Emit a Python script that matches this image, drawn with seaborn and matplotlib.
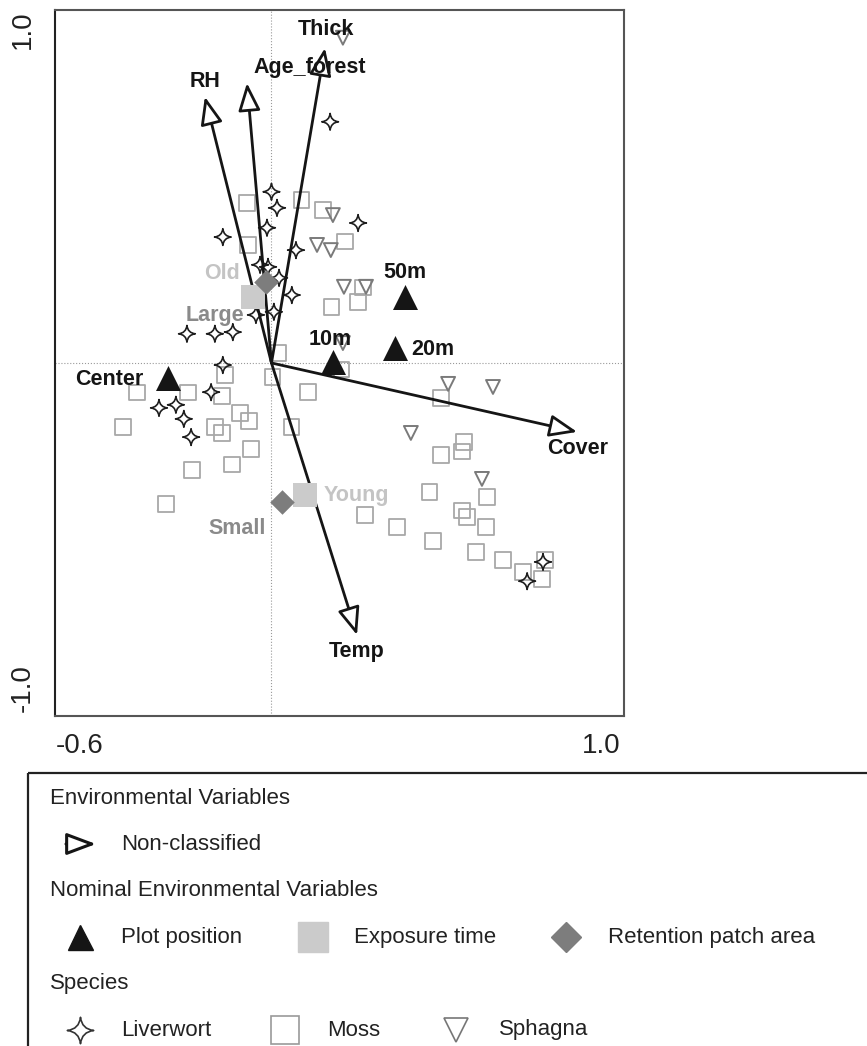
import numpy as np
import pandas as pd
import matplotlib
matplotlib.use("Agg")
import matplotlib.pyplot as plt
from matplotlib.path import Path
from matplotlib.markers import MarkerStyle
from matplotlib.patches import Rectangle
from matplotlib.transforms import ScaledTranslation
import seaborn as sns

# ---- data ----
# environmental variables (arrow tips)
env_names = ["Thick", "Age_forest", "RH", "Cover", "Temp"]
env_x = [0.155, -0.071, -0.193, 0.886, 0.248]
env_y = [0.918, 0.816, 0.776, -0.201, -0.793]

# nominal environmental variables
plot_pos = ["50m", "20m", "10m", "Center"]
plot_pos_x = [0.387, 0.358, 0.178, -0.300]
plot_pos_y = [0.192, 0.044, 0.003, -0.044]

exposure = ["Old", "Young"]
exposure_x = [-0.054, 0.097]
exposure_y = [0.192, -0.385]

patch_area = ["Large", "Small"]
patch_x = [-0.016, 0.030]
patch_y = [0.236, -0.405]

# species scores
liverwort_x = [0.170, 0.000, 0.016, -0.013, -0.141, 0.251, 0.071, -0.033, -0.010, 0.022,
               0.059, -0.045, 0.007, -0.245, -0.164, -0.112, -0.141, -0.175, -0.326, -0.277,
               -0.254, -0.233, 0.787, 0.741]
liverwort_y = [0.703, 0.499, 0.452, 0.394, 0.367, 0.408, 0.329, 0.286, 0.280, 0.248,
               0.198, 0.140, 0.149, 0.085, 0.085, 0.090, -0.006, -0.085, -0.131, -0.122,
               -0.163, -0.216, -0.580, -0.636]

moss_x = [-0.071, 0.088, 0.149, -0.068, 0.213, 0.175, 0.251, 0.265, 0.019, -0.135,
          0.004, 0.106, -0.390, -0.242, -0.143, -0.430, -0.091, -0.065, -0.164, -0.143,
          0.059, -0.059, -0.114, -0.230, -0.306, 0.204, 0.271, 0.491, 0.491, 0.552,
          0.558, 0.457, 0.625, 0.552, 0.567, 0.622, 0.364, 0.468, 0.593, 0.671,
          0.729, 0.793, 0.784]
moss_y = [0.466, 0.475, 0.446, 0.344, 0.353, 0.163, 0.178, 0.219, 0.029, -0.035,
          -0.041, -0.085, -0.087, -0.087, -0.096, -0.187, -0.146, -0.169, -0.187, -0.204,
          -0.187, -0.251, -0.297, -0.312, -0.411, -0.020, -0.443, -0.102, -0.268, -0.259,
          -0.230, -0.376, -0.391, -0.431, -0.449, -0.478, -0.478, -0.519, -0.551, -0.574,
          -0.609, -0.574, -0.630]

sphagna_x = [0.207, 0.178, 0.132, 0.172, 0.210, 0.274, 0.207, 0.512, 0.642, 0.404, 0.610]
sphagna_y = [0.948, 0.431, 0.344, 0.329, 0.222, 0.222, 0.058, -0.061, -0.070, -0.204, -0.338]

# label offsets (points) relative to the mark
env_label_offset = {"Thick": (1, 13), "Age_forest": (45, 11), "RH": (0, 11),
                    "Cover": (0, -12), "Temp": (0, -12)}
nominal_label_offset = {"50m": (0, 18), "20m": (27, -1), "10m": (-2, 16), "Center": (-42, -1),
                        "Old": (-22, 17), "Young": (37, 0), "Large": (-37, -24), "Small": (-32, -19)}

sns.set_style("white")
plt.rcParams["font.family"] = ["Liberation Sans", "DejaVu Sans"]

# four-pointed star used for liverworts
c = 0.1
star_verts = [(0, 1), (c, c), (1, 0), (c, -c), (0, -1), (-c, -c), (-1, 0), (-c, c), (0, 1), (0, 1)]
star_codes = [Path.MOVETO] + [Path.CURVE3] * 8 + [Path.CLOSEPOLY]
star = MarkerStyle(Path(star_verts, star_codes))

fig = plt.figure(figsize=(8.67, 10.46), dpi=100)
ax = fig.add_axes([0.0634, 0.3155, 0.6563, 0.675])

ax.axhline(0, color="#9a9a9a", lw=0.8, ls=":", zorder=1)
ax.axvline(0, color="#9a9a9a", lw=0.8, ls=":", zorder=1)

# species
sns.scatterplot(x=moss_x, y=moss_y, marker="s", s=11 ** 2, facecolor="none",
                edgecolor="#a8a8a8", linewidth=1.3, ax=ax, zorder=2)
sns.scatterplot(x=sphagna_x, y=sphagna_y, marker="v", s=10 ** 2, facecolor="none",
                edgecolor="#7a7a7a", linewidth=1.4, ax=ax, zorder=2)
sns.scatterplot(x=liverwort_x, y=liverwort_y, marker=star, s=12 ** 2, facecolor="none",
                edgecolor="#1e1e1e", linewidth=1.2, ax=ax, zorder=3)

# environmental arrows
arrow_style = "-|>,head_length=1.0,head_width=0.4"
for name, x, y in zip(env_names, env_x, env_y):
    ax.annotate("", xy=(x, y), xytext=(0, 0),
                arrowprops=dict(arrowstyle=arrow_style, mutation_scale=17, fc="white",
                                ec="#151515", lw=2.0, shrinkA=0, shrinkB=0), zorder=4)
    ax.annotate(name, xy=(x, y), xytext=env_label_offset[name], textcoords="offset points",
                ha="center", va="center", fontsize=15.5, fontweight="bold", color="#151515",
                zorder=6)

# nominal variables
sns.scatterplot(x=exposure_x, y=exposure_y, marker="s", s=17 ** 2, color="#cbcbcb",
                edgecolor="#cbcbcb", linewidth=0, ax=ax, zorder=5)
sns.scatterplot(x=patch_x, y=patch_y, marker="D", s=12.5 ** 2, color="#7d7d7d",
                edgecolor="#7d7d7d", linewidth=0, ax=ax, zorder=5)
sns.scatterplot(x=plot_pos_x, y=plot_pos_y, marker="^", s=18 ** 2, color="#151515",
                edgecolor="#151515", linewidth=0, ax=ax, zorder=5)

for names, xs, ys, col in [(plot_pos, plot_pos_x, plot_pos_y, "#151515"),
                           (exposure, exposure_x, exposure_y, "#c4c4c4"),
                           (patch_area, patch_x, patch_y, "#8a8a8a")]:
    for name, x, y in zip(names, xs, ys):
        ax.annotate(name, xy=(x, y), xytext=nominal_label_offset[name],
                    textcoords="offset points", ha="center", va="center",
                    fontsize=15.5, fontweight="bold", color=col, zorder=6)

ax.set_xlim(-0.6275, 1.0217)
ax.set_ylim(-1.029, 1.029)
xt = np.round(np.arange(-0.6, 1.01, 0.2), 1)
ax.set_xticks(xt)
ax.set_xticklabels(["-0.6"] + [""] * (len(xt) - 2) + ["1.0"])
ax.set_yticks([-1.0, -0.5, 0, 0.5, 1.0])
ax.set_yticklabels(["-1.0", "", "", "", "1.0"], rotation=90, va="center")
ax.tick_params(direction="out", length=6, width=1.2, color="#333333",
               labelsize=20, labelcolor="#222222")
ax.tick_params(axis="x", pad=6)
ax.tick_params(axis="y", pad=8)
ax.set_xlabel("")
ax.set_ylabel("")
for side in ["top", "right", "bottom"]:
    ax.spines[side].set_color("#555555")
    ax.spines[side].set_linewidth(1.5)
ax.spines["left"].set_color("#222222")
ax.spines["left"].set_linewidth(1.5)

# end labels sit inward from their ticks, as in the original
xlabs = ax.get_xticklabels()
for lab, dx in [(xlabs[0], 0.15), (xlabs[-1], -0.15)]:
    lab.set_transform(lab.get_transform() + ScaledTranslation(dx, 0, fig.dpi_scale_trans))
ylabs = ax.get_yticklabels()
for lab, dy in [(ylabs[0], 0.18), (ylabs[-1], -0.10)]:
    lab.set_transform(lab.get_transform() + ScaledTranslation(0, dy, fig.dpi_scale_trans))

# ---- legend box (pixel coordinates) ----
lax = fig.add_axes([0, 0, 1, 1], zorder=-1)
lax.set_xlim(0, 867)
lax.set_ylim(1046, 0)
lax.axis("off")
lax.add_patch(Rectangle((28, 773), 900, 400, fill=False, ec="#222222", lw=1.6, clip_on=False))

txt = dict(fontsize=16, color="#222222", va="center", ha="left")
rows = [798, 844, 890, 937, 983, 1030]
lax.text(50, rows[0], "Environmental Variables", **txt)
lax.annotate("", xy=(96, rows[1]), xytext=(66, rows[1]),
             arrowprops=dict(arrowstyle="-|>,head_length=1.2,head_width=0.45", mutation_scale=15,
                             fc="white", ec="#151515", lw=2.2, shrinkA=0, shrinkB=0))
lax.text(121, rows[1], "Non-classified", **txt)

lax.text(50, rows[2], "Nominal Environmental Variables", **txt)
lax.plot([80], [rows[3]], marker="^", ms=18, color="#151515", ls="none")
lax.text(121, rows[3], "Plot position", **txt)
lax.plot([313], [rows[3]], marker="s", ms=21, color="#cbcbcb", ls="none")
lax.text(354, rows[3], "Exposure time", **txt)
lax.plot([566], [rows[3]], marker="D", ms=15, color="#7d7d7d", ls="none")
lax.text(608, rows[3], "Retention patch area", **txt)

lax.text(50, rows[4], "Species", **txt)
lax.plot([80], [rows[5]], marker=star, ms=19, mfc="none", mec="#333333", mew=1.2, ls="none")
lax.text(121, rows[5], "Liverwort", **txt)
lax.plot([285], [rows[5]], marker="s", ms=20, mfc="none", mec="#999999", mew=1.2, ls="none")
lax.text(327, rows[5], "Moss", **txt)
lax.plot([456], [rows[5]], marker="v", ms=17, mfc="none", mec="#777777", mew=1.2, ls="none")
lax.text(499, rows[5], "Sphagna", **txt)

fig.savefig("out.png", dpi=100)
